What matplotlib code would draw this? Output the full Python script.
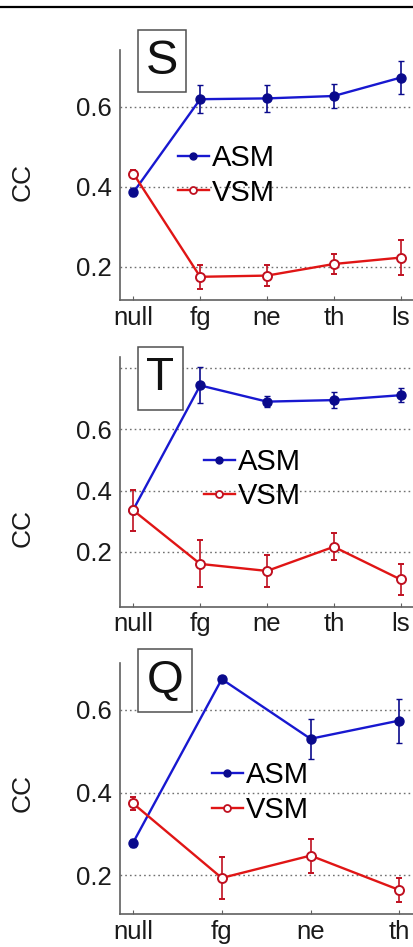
import matplotlib
matplotlib.use("Agg")
import matplotlib.pyplot as plt
from matplotlib.patches import Rectangle
from matplotlib.lines import Line2D

plt.rcParams["font.family"] = ["Liberation Sans", "DejaVu Sans"]

# conditions on the x axis
cond_5 = ["null", "fg", "ne", "th", "ls"]
cond_4 = ["null", "fg", "ne", "th"]

# panel S
s_asm = [0.386, 0.619, 0.621, 0.627, 0.673]
s_asm_err = [0.008, 0.035, 0.033, 0.029, 0.042]
s_vsm = [0.433, 0.175, 0.178, 0.207, 0.223]
s_vsm_err = [0.008, 0.030, 0.027, 0.024, 0.043]

# panel T
t_asm = [0.338, 0.744, 0.691, 0.696, 0.712]
t_asm_err = [0.010, 0.059, 0.019, 0.025, 0.023]
t_vsm = [0.335, 0.160, 0.137, 0.216, 0.109]
t_vsm_err = [0.067, 0.077, 0.051, 0.044, 0.052]

# panel Q
q_asm = [0.279, 0.674, 0.530, 0.574]
q_asm_err = [0.010, 0.008, 0.049, 0.053]
q_vsm = [0.374, 0.194, 0.248, 0.165]
q_vsm_err = [0.016, 0.050, 0.041, 0.029]

BLUE = "#1818d0"
BLUE_DARK = "#0a0a8c"
RED = "#e01515"
RED_DARK = "#c01020"

W, H = 414, 947


def draw_panel(fig, rect, cats, asm, asm_err, vsm, vsm_err, xlim, ylim,
               yticks, yticklabels, letter, box, letter_size, legend_xy, ylabel_y):
    ax = fig.add_axes(rect)
    x = list(range(1, len(cats) + 1))

    for y in yticks:
        ax.axhline(y, color="#707070", lw=1.0, ls=(0, (1.2, 2.2)), zorder=0)

    ax.errorbar(x, asm, yerr=asm_err, color=BLUE, ecolor=BLUE_DARK, lw=1.7,
                elinewidth=1.2, capsize=2.5, marker="o", ms=6.5,
                mfc=BLUE_DARK, mec=BLUE_DARK, label="ASM", zorder=3)
    ax.errorbar(x, vsm, yerr=vsm_err, color=RED, ecolor=RED_DARK, lw=1.7,
                elinewidth=1.2, capsize=2.5, marker="o", ms=6.5,
                mfc="white", mec=RED_DARK, mew=1.4, label="VSM", zorder=3)

    ax.set_xlim(*xlim)
    ax.set_ylim(*ylim)
    ax.set_xticks(x)
    ax.set_xticklabels(cats)
    ax.set_yticks(yticks)
    ax.set_yticklabels(yticklabels)
    ax.tick_params(axis="x", direction="in", length=3, color="#606060",
                   labelsize=18.5, pad=4, labelcolor="#1a1a1a")
    ax.tick_params(axis="y", length=0, labelsize=18.5, pad=6, labelcolor="#1a1a1a")

    for side in ("top", "right"):
        ax.spines[side].set_visible(False)
    for side in ("left", "bottom"):
        ax.spines[side].set_color("#606060")
        ax.spines[side].set_linewidth(1.2)

    ax.set_ylabel("CC", fontsize=19, va="center", color="#1a1a1a")
    ax.yaxis.set_label_coords((23 - 120) / 294, ylabel_y)

    handles = [
        Line2D([], [], color=BLUE, lw=1.7, marker="o", ms=5, mfc=BLUE_DARK, mec=BLUE_DARK),
        Line2D([], [], color=RED, lw=1.7, marker="o", ms=5, mfc="white", mec=RED_DARK, mew=1.3),
    ]
    ax.legend(handles, ["ASM", "VSM"], loc="center left", bbox_to_anchor=legend_xy,
              frameon=False, fontsize=21, handlelength=1.05, handletextpad=0.1,
              labelspacing=0.22, borderpad=0, borderaxespad=0)

    # letter tag in a box, partly above the axes
    bx0, by0, bx1, by1 = box
    fig.patches.append(Rectangle((bx0 / W, 1 - by1 / H), (bx1 - bx0) / W, (by1 - by0) / H,
                                 transform=fig.transFigure, fill=True, fc="white",
                                 ec="#505050", lw=1.1, zorder=5))
    fig.text((bx0 + bx1) / 2 / W, 1 - (by0 + by1) / 2 / H, letter, fontsize=letter_size,
             ha="center", va="center", color="#111111", zorder=6)
    return ax


fig = plt.figure(figsize=(W / 100, H / 100), dpi=100)

fig.add_artist(Line2D([0, 1], [1 - 7 / H, 1 - 7 / H], transform=fig.transFigure,
                      color="black", lw=1.6))

draw_panel(fig, [120 / W, 1 - 300 / H, 294 / W, 250 / H], cond_5,
           s_asm, s_asm_err, s_vsm, s_vsm_err,
           (0.8, 5.2), (0.117, 0.742), [0.2, 0.4, 0.6], ["0.2", "0.4", "0.6"],
           "S", (138, 30, 186, 92), 35, (0.197, 0.498), 0.472)

draw_panel(fig, [120 / W, 1 - 606.7 / H, 294 / W, 250 / H], cond_5,
           t_asm, t_asm_err, t_vsm, t_vsm_err,
           (0.8, 5.2), (0.02, 0.838), [0.2, 0.4, 0.6, 0.8], ["0.2", "0.4", "0.6", ""],
           "T", (138, 347, 183, 410), 33, (0.286, 0.51), 0.314)

draw_panel(fig, [120 / W, 1 - 914 / H, 294 / W, 251 / H], cond_4,
           q_asm, q_asm_err, q_vsm, q_vsm_err,
           (0.853, 4.166), (0.107, 0.713), [0.2, 0.4, 0.6], ["0.2", "0.4", "0.6"],
           "Q", (138, 649, 192, 712), 34, (0.313, 0.484), 0.481)

fig.savefig("out.png", dpi=100)
